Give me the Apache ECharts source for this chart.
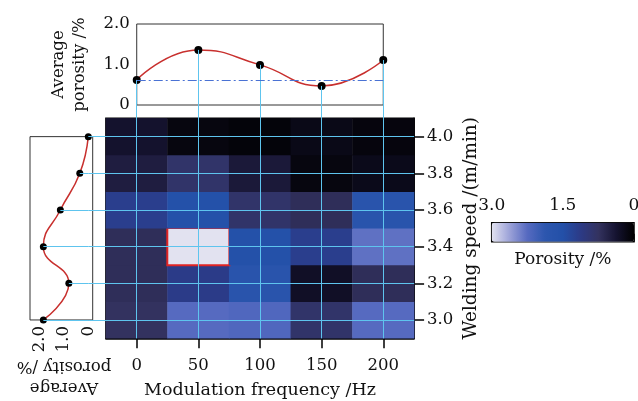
<!DOCTYPE html>
<html><head><meta charset="utf-8">
<script src="https://cdn.jsdelivr.net/npm/echarts@6/dist/echarts.min.js"></script>
<style>html,body{margin:0;padding:0;background:#fff}#c{width:638px;height:401px}</style>
</head><body><div id="c"></div>
<script>
// ---- data ----
const freqLabels = ['0', '50', '100', '150', '200'];
const freqValues = [0, 50, 100, 150, 200];
const speedLabels = ['3.0', '3.2', '3.4', '3.6', '3.8', '4.0'];
const speedValues = [3.0, 3.2, 3.4, 3.6, 3.8, 4.0];
const porosityAt30 = [0.75, 2.25, 2.2, 0.85, 2.25];
const porosityAt32 = [0.7, 1.15, 1.75, 0.3, 0.7];
const porosityAt34 = [0.7, 3.0, 1.55, 1.2, 2.3];
const porosityAt36 = [1.2, 1.55, 0.85, 0.7, 1.75];
const porosityAt38 = [0.5, 0.85, 0.45, 0.12, 0.2];
const porosityAt40 = [0.35, 0.12, 0.08, 0.18, 0.1];
const avgByFreq = [0.62, 1.36, 0.99, 0.47, 1.11];
const avgBySpeed = [1.85, 0.8, 1.85, 1.15, 0.35, 0.0];
const meanLevel = 0.6;
const highlightFreq = '50';
const highlightSpeed = '3.4';
const porosityColors = ['#000000', '#151330', '#33325f', '#2c3a86', '#2350a8', '#2c56ae', '#566ac0', '#9ca2d8', '#e2e2f0'];

// ---- layout ----
const FONT = 'DejaVu Serif';
const TXT = '#111';
const GUIDE = '#5ec4ee';
const HM = { left: 105.9, top: 118.3, w: 308.2, h: 220 };
const cellW = HM.w / freqLabels.length, cellH = HM.h / speedLabels.length;
const xFirst = HM.left + cellW / 2, xLast = HM.left + HM.w - cellW / 2;
const yTop = HM.top + cellH / 2, yBot = HM.top + HM.h - cellH / 2;
const TOP = { top: 24, bottom: 105 };
const LEFT = { zeroX: 88.3, twoX: 39.7, boxL: 30, boxR: 92.7 };
const CB = { left: 491.7, top: 222.7, w: 142.3, h: 19 };

const rows = [porosityAt30, porosityAt32, porosityAt34, porosityAt36, porosityAt38, porosityAt40];
const heatData = [];
rows.forEach((row, si) => row.forEach((v, fi) => {
  const item = { value: [fi, si, v] };
  if (freqLabels[fi] === highlightFreq && speedLabels[si] === highlightSpeed) {
    item.itemStyle = { borderColor: '#e02424', borderWidth: 2 };
  }
  heatData.push(item);
}));

const fmt1 = v => (v === 0 ? '0' : v.toFixed(1));
const lab = { fontFamily: FONT, fontSize: 16.5, color: TXT };
const hidden = { show: false };
const G = (o) => Object.assign({ containLabel: false, outerBoundsMode: 'none' }, o);

const chart = echarts.init(document.getElementById('c'), null, { renderer: 'canvas' });
chart.setOption({
  animation: false,
  backgroundColor: '#fff',
  textStyle: { fontFamily: FONT },
  grid: [
    G({ left: HM.left, top: HM.top, width: HM.w, height: HM.h, show: true, borderColor: '#000', borderWidth: 1.5, backgroundColor: 'transparent' }),
    G({ left: xFirst, top: TOP.top, width: xLast - xFirst, height: TOP.bottom - TOP.top, show: true, borderColor: '#333', borderWidth: 1 }),
    G({ left: xFirst, top: TOP.bottom, width: xLast - xFirst, height: HM.top + HM.h - TOP.bottom }),
    G({ left: LEFT.twoX, top: yTop, width: LEFT.zeroX - LEFT.twoX, height: yBot - yTop }),
    G({ left: LEFT.boxL, top: yTop, width: LEFT.boxR - LEFT.boxL, height: yBot - yTop, show: true, borderColor: '#333', borderWidth: 1 }),
    G({ left: LEFT.zeroX, top: yTop, width: HM.left + HM.w - LEFT.zeroX, height: yBot - yTop }),
    G({ left: CB.left, top: CB.top, width: CB.w, height: CB.h, show: true, borderColor: '#000', borderWidth: 1.5 })
  ],
  xAxis: [
    { gridIndex: 0, type: 'category', data: freqLabels, position: 'bottom',
      axisLine: { show: true, lineStyle: { color: '#000', width: 1.5 } },
      axisTick: { show: true, alignWithLabel: true, length: 10, lineStyle: { color: '#000', width: 1.5 } },
      axisLabel: Object.assign({ margin: 19 }, lab),
      name: 'Modulation frequency /Hz', nameLocation: 'middle', nameGap: 43,
      nameTextStyle: Object.assign({}, lab, { fontSize: 17.5 }) },
    { gridIndex: 1, type: 'value', min: 0, max: 200, show: false },
    { gridIndex: 2, type: 'value', min: 0, max: 200, interval: 50, z: 5,
      axisLine: hidden, axisTick: hidden, axisLabel: hidden,
      splitLine: { show: true, lineStyle: { color: GUIDE, width: 1 } } },
    { gridIndex: 3, type: 'value', min: 0, max: 2, interval: 1, inverse: true, position: 'bottom',
      axisLine: hidden, axisTick: hidden, splitLine: hidden,
      axisLabel: Object.assign({ rotate: 90, margin: 6, formatter: fmt1 }, lab),
      name: 'Average\nporosity /%', nameLocation: 'middle', nameRotate: 180, nameGap: 33,
      nameTextStyle: Object.assign({}, lab, { lineHeight: 21 }) },
    { gridIndex: 4, type: 'value', show: false, min: 0, max: 1 },
    { gridIndex: 5, type: 'value', show: false, min: 0, max: 1 },
    { gridIndex: 6, type: 'value', min: 0, max: 3, interval: 1.5, inverse: true, position: 'top',
      axisLine: hidden, splitLine: hidden,
      axisTick: { show: true, length: 8, lineStyle: { color: '#000', width: 1.5 } },
      axisLabel: Object.assign({ margin: 9, formatter: fmt1 }, lab, { fontSize: 17 }) },
    { gridIndex: 6, type: 'value', min: 0, max: 3, position: 'bottom',
      axisLine: hidden, axisTick: hidden, axisLabel: hidden, splitLine: hidden,
      name: 'Porosity /%', nameLocation: 'middle', nameGap: 9, nameTextStyle: Object.assign({}, lab, { fontSize: 17 }) }
  ],
  yAxis: [
    { gridIndex: 0, type: 'category', data: speedLabels, position: 'right',
      axisLine: { show: true, lineStyle: { color: '#000', width: 1.5 } },
      axisTick: { show: true, alignWithLabel: true, length: 10, lineStyle: { color: '#000', width: 1.5 } },
      axisLabel: Object.assign({ margin: 13 }, lab),
      name: 'Welding speed /(m/min)', nameLocation: 'middle', nameRotate: 90, nameGap: 48,
      nameTextStyle: Object.assign({}, lab, { fontSize: 18.5 }) },
    { gridIndex: 1, type: 'value', min: 0, max: 2, interval: 1,
      axisLine: hidden, axisTick: hidden, splitLine: hidden,
      axisLabel: Object.assign({ margin: 7, formatter: fmt1 }, lab),
      name: 'Average\nporosity /%', nameLocation: 'middle', nameRotate: 90, nameGap: 47,
      nameTextStyle: Object.assign({}, lab, { lineHeight: 21 }) },
    { gridIndex: 2, type: 'value', show: false, min: 0, max: 1 },
    { gridIndex: 3, type: 'value', show: false, min: 3.0, max: 4.0 },
    { gridIndex: 4, type: 'value', show: false, min: 0, max: 1 },
    { gridIndex: 5, type: 'value', min: 3.0, max: 4.0, interval: 0.2, z: 5,
      axisLine: hidden, axisTick: hidden, axisLabel: hidden,
      splitLine: { show: true, lineStyle: { color: GUIDE, width: 1 } } },
    { gridIndex: 6, type: 'value', show: false, min: 0, max: 1 }
  ],
  visualMap: {
    type: 'continuous', min: 0, max: 3, orient: 'horizontal', inverse: true,
    left: CB.left, top: CB.top, itemWidth: CB.h, itemHeight: CB.w, padding: 0,
    calculable: false, seriesIndex: 0, hoverLink: false,
    inRange: { color: porosityColors }
  },
  series: [
    { type: 'heatmap', xAxisIndex: 0, yAxisIndex: 0, data: heatData, z: 2,
      emphasis: { disabled: true }, itemStyle: { borderWidth: 0 } },
    { type: 'line', xAxisIndex: 1, yAxisIndex: 1, data: [], z: 1, silent: true,
      markLine: { silent: true, symbol: 'none', label: hidden,
        lineStyle: { color: GUIDE, width: 1, type: 'solid' },
        data: freqValues.map((f, i) => [{ coord: [f, avgByFreq[i]] }, { coord: [f, 0] }]) } },
    { type: 'line', xAxisIndex: 1, yAxisIndex: 1, z: 3, silent: true,
      data: freqValues.map((f, i) => [f, avgByFreq[i]]), smooth: 0.5,
      lineStyle: { color: '#c8302e', width: 1.5 },
      symbol: 'circle', symbolSize: 8, itemStyle: { color: '#000' },
      markLine: { silent: true, symbol: 'none', label: hidden,
        lineStyle: { color: '#4a72d4', width: 1.2, type: [9, 3, 2, 3] },
        data: [{ yAxis: meanLevel }] } },
    { type: 'line', xAxisIndex: 3, yAxisIndex: 3, data: [], z: 1, silent: true,
      markLine: { silent: true, symbol: 'none', label: hidden,
        lineStyle: { color: GUIDE, width: 1, type: 'solid' },
        data: speedValues.map((s, i) => [{ coord: [avgBySpeed[i], s] }, { coord: [0, s] }]) } },
    { type: 'line', xAxisIndex: 3, yAxisIndex: 3, z: 3, silent: true,
      data: speedValues.map((s, i) => [avgBySpeed[i], s]), smooth: 0.5,
      lineStyle: { color: '#c8302e', width: 1.5 },
      symbol: 'circle', symbolSize: 7, itemStyle: { color: '#000' } }
  ]
});
</script></body></html>
